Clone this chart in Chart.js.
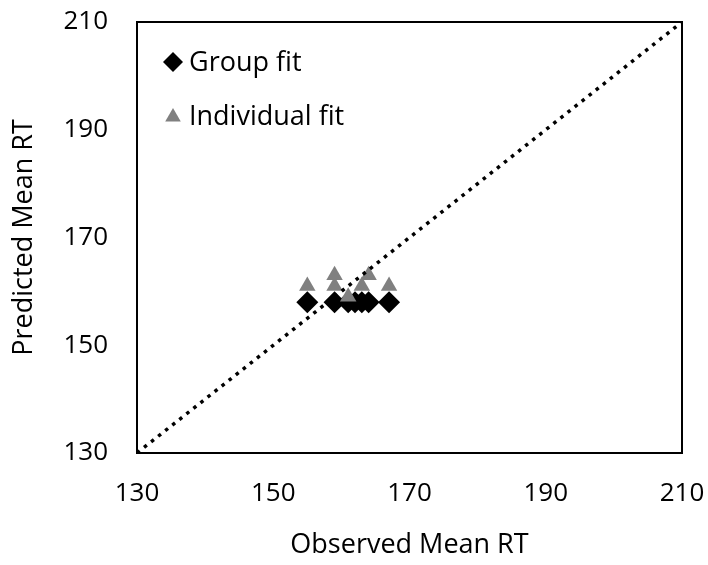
<!DOCTYPE html>
<html>
<head>
<meta charset="utf-8">
<script src="https://cdn.jsdelivr.net/npm/chart.js@4/dist/chart.umd.min.js"></script>
<style>
  html, body { margin: 0; padding: 0; background: #fff; }
  #wrap { width: 708px; height: 565px; }
</style>
</head>
<body>
<div id="wrap"><canvas id="chart"></canvas></div>
<script>
// values
const groupX = [155, 159, 161, 162, 163, 164, 167];
const groupY = [158, 158, 158, 158, 158, 158, 158];
const indivX = [155, 159, 159, 161, 163, 164, 167];
const indivY = [161, 163, 161, 159, 161, 163, 161];
const diagX = [130, 210];
const diagY = [130, 210];
const axisTicks = [130, 150, 170, 190, 210];

const FONT = '"Open Sans", sans-serif';

const toPts = (xs, ys) => xs.map((x, i) => ({ x: x, y: ys[i] }));

// frame round the plot area
const boxPlugin = {
  id: 'box',
  afterDatasetsDraw(chart) {
    const a = chart.chartArea;
    const c = chart.ctx;
    c.save();
    c.strokeStyle = '#000';
    c.lineWidth = 2;
    c.strokeRect(a.left, a.top, a.right - a.left, a.bottom - a.top);
    c.restore();
  }
};

// legend inside the plot, top left, like the Excel one
const legendPlugin = {
  id: 'innerLegend',
  afterDraw(chart) {
    const c = chart.ctx;
    c.save();
    c.font = '27px ' + FONT;
    c.textBaseline = 'middle';
    c.fillStyle = '#000';

    // diamond
    let x = 173, y = 62, r = 10;
    c.beginPath();
    c.moveTo(x, y - r); c.lineTo(x + r, y); c.lineTo(x, y + r); c.lineTo(x - r, y);
    c.closePath();
    c.fill();
    c.fillText(chart.data.datasets[0].label, 189, y + 1);

    // triangle
    y = 117; r = 9;
    c.fillStyle = '#808080';
    c.beginPath();
    c.moveTo(x, y - r); c.lineTo(x + r * 0.866, y + r * 0.5); c.lineTo(x - r * 0.866, y + r * 0.5);
    c.closePath();
    c.fill();
    c.fillStyle = '#000';
    c.fillText(chart.data.datasets[1].label, 189, y);
    c.restore();
  }
};

const ctx = document.getElementById('chart').getContext('2d');
const chart = new Chart(ctx, {
  type: 'scatter',
  data: {
    datasets: [{
      label: 'Group fit',
      data: toPts(groupX, groupY),
      pointStyle: 'rectRot',
      pointRadius: 11,
      backgroundColor: '#000',
      borderColor: '#000',
      borderWidth: 0,
      order: 2
    }, {
      label: 'Individual fit',
      data: toPts(indivX, indivY),
      pointStyle: 'triangle',
      pointRadius: 9.5,
      backgroundColor: '#808080',
      borderColor: '#808080',
      borderWidth: 0,
      order: 1
    }, {
      label: 'diagonal',
      type: 'line',
      data: toPts(diagX, diagY),
      borderColor: '#000',
      borderWidth: 3.5,
      borderDash: [3.5, 5.5],
      pointRadius: 0,
      fill: false,
      order: 0
    }]
  },
  options: {
    responsive: true,
    maintainAspectRatio: false,
    animation: false,
    layout: { padding: { top: 22, right: 26, left: 0, bottom: 0 } },
    plugins: {
      legend: { display: false },
      tooltip: { enabled: false }
    },
    scales: {
      x: {
        type: 'linear',
        min: 130, max: 210,
        afterBuildTicks: (s) => { s.ticks = axisTicks.map(v => ({ value: v })); },
        afterFit: (s) => { s.height = 112; s.paddingLeft = 0; s.paddingRight = 0; },
        grid: { display: false, drawTicks: false },
        border: { display: false },
        ticks: { color: '#000', padding: 25, font: { family: FONT, size: 26 } },
        title: {
          display: true, text: 'Observed Mean RT', color: '#000',
          font: { family: FONT, size: 27 }, padding: { top: 0, bottom: 3 }
        }
      },
      y: {
        type: 'linear',
        min: 130, max: 210,
        afterBuildTicks: (s) => { s.ticks = axisTicks.map(v => ({ value: v })); },
        afterFit: (s) => { s.width = 137; s.paddingTop = 0; s.paddingBottom = 0; },
        grid: { display: false, drawTicks: false },
        border: { display: false },
        ticks: { color: '#000', padding: 29, font: { family: FONT, size: 26 } },
        title: {
          display: true, text: 'Predicted Mean RT', color: '#000',
          font: { family: FONT, size: 27 }, padding: { top: 8, bottom: 0 }
        }
      }
    }
  },
  plugins: [boxPlugin, legendPlugin]
});
</script>
</body>
</html>
